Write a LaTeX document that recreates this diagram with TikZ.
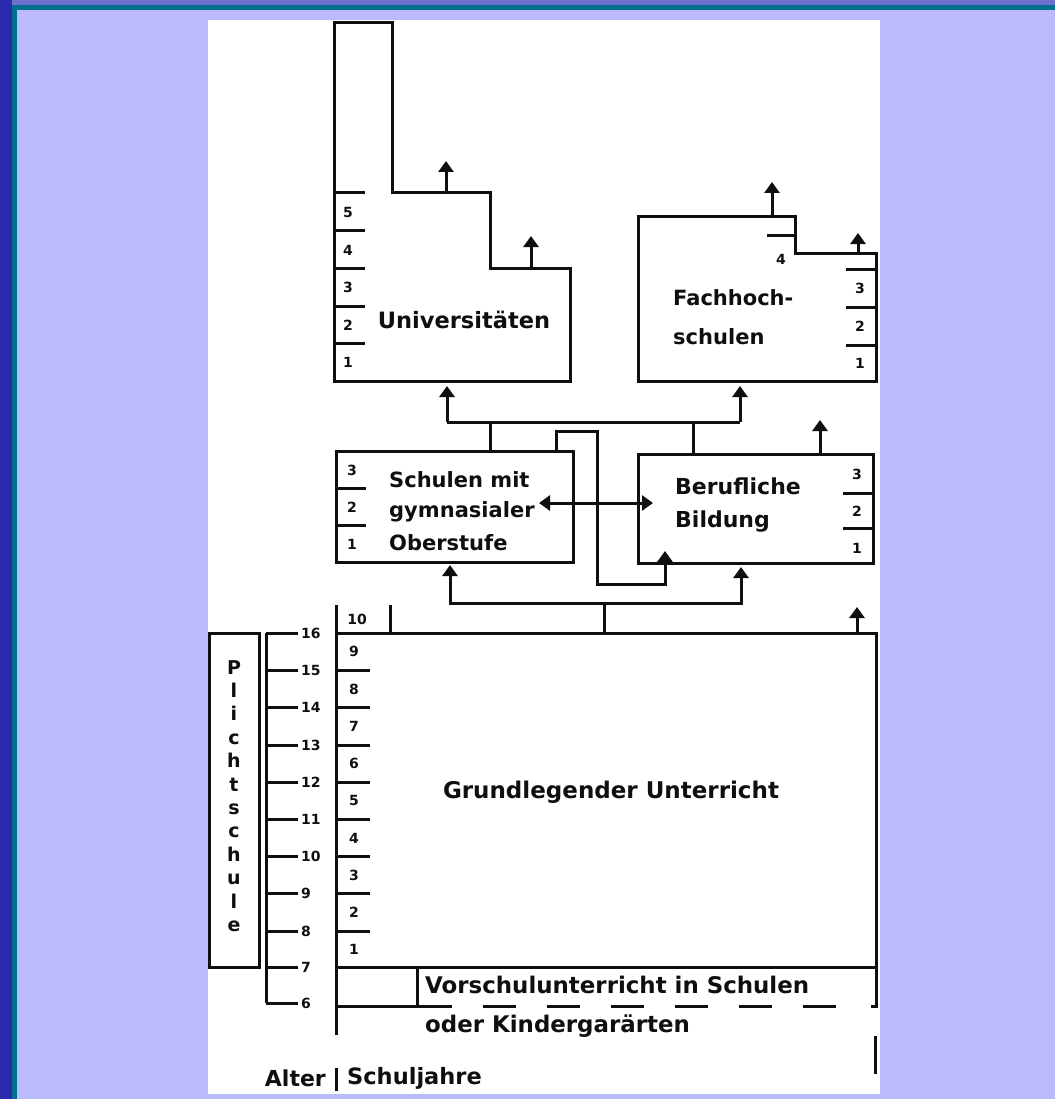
\documentclass[tikz,border=0pt]{standalone}
\usepackage{fontspec}
\setmainfont{DejaVu Sans}
\newfontfamily\numfnt{DejaVu Sans}
\usetikzlibrary{arrows.meta}
\definecolor{bglav}{RGB}{186,186,252}
\definecolor{frteal}{RGB}{0,112,144}
\definecolor{stripblue}{RGB}{42,42,172}
\definecolor{topblue}{RGB}{112,112,204}
\definecolor{ink}{RGB}{15,15,15}
\begin{document}
\begin{tikzpicture}[x=1pt,y=-1pt,
  ln/.style={line width=3pt,draw=ink,line join=miter},
  arr/.style={ln,-{Triangle[width=15pt,length=11pt]}},
  arrtwo/.style={ln,{Triangle[width=15pt,length=11pt]}-{Triangle[width=15pt,length=11pt]}},
  lbl/.style={font=\bfseries\fontsize{21}{25}\selectfont,text=ink,inner sep=0pt},
  num/.style={font=\numfnt\bfseries\fontsize{14}{14}\selectfont,text=ink,inner sep=0pt},
  boxr/.style={ln,rectangle,inner sep=0pt,fill=white}]
\useasboundingbox (0,0) rectangle (1055,1099);
% background
\fill[bglav] (0,0) rectangle (1055,1099);
\fill[topblue] (0,0) rectangle (1055,5);
\fill[stripblue] (0,0) rectangle (12,1099);
\fill[frteal] (12,5) rectangle (1055,10);
\fill[frteal] (12,5) rectangle (17,1099);
\fill[white] (208,20) rectangle (880,1094);

% ---- Universitaeten ----
\draw[ln] (334,23) -- (392,23) -- (392,193) -- (490,193) -- (490,268) -- (570,268) -- (570,381) -- (334,381) -- cycle;
\foreach \y in {193,231,268,306,343} \draw[ln] (334,\y) -- (365,\y);
\foreach \n/\y in {5/212,4/250,3/287,2/325,1/362} \node[num] (u\n) at (348,\y) {\n};
\node[lbl,font=\bfseries\fontsize{22.5}{26}\selectfont] (uni) at (464,320) {Universitäten};
\coordinate (ua1) at (446,193); \coordinate (ua1t) at (446,161);
\coordinate (ua2) at (531,268); \coordinate (ua2t) at (531,236);
\draw[arr] (ua1) -- (ua1t);
\draw[arr] (ua2) -- (ua2t);

% ---- Fachhochschulen ----
\draw[ln] (638,217) -- (795,217) -- (795,253) -- (876,253) -- (876,381) -- (638,381) -- cycle;
\draw[ln] (767,236) -- (795,236);
\node[num] (f4) at (781,259) {4};
\foreach \y in {269,307,345} \draw[ln] (846,\y) -- (876,\y);
\foreach \n/\y in {3/288,2/326,1/363} \node[num] (f\n) at (860,\y) {\n};
\node[lbl,anchor=west] (fach1) at (673,298) {Fachhoch-};
\node[lbl,anchor=west] (fach2) at (673,337) {schulen};
\coordinate (fa1) at (772,217); \coordinate (fa1t) at (772,182);
\coordinate (fa2) at (858,253); \coordinate (fa2t) at (858,233);
\draw[arr] (fa1) -- (fa1t);
\draw[arr] (fa2) -- (fa2t);

% ---- Schulen mit gymnasialer Oberstufe ----
\node[boxr,minimum width=237pt,minimum height=111pt] (schul) at (454.5,506.5) {};
\draw[ln] (336,488) -- (366,488);
\draw[ln] (336,525) -- (366,525);
\foreach \n/\y in {3/470,2/507,1/544} \node[num] (s\n) at (352,\y) {\n};
\node[lbl,anchor=west] (sch1) at (389,480) {Schulen mit};
\node[lbl,anchor=west] (sch2) at (389,512) {gymnasialer};
\node[lbl,anchor=west] (sch3) at (389,543) {Oberstufe};

% ---- Berufliche Bildung ----
\node[boxr,minimum width=235pt,minimum height=109pt] (beruf) at (755.5,508.5) {};
\draw[ln] (843,493) -- (873,493);
\draw[ln] (843,528) -- (873,528);
\foreach \n/\y in {3/474,2/511,1/548} \node[num] (b\n) at (857,\y) {\n};
\node[lbl,anchor=west,font=\bfseries\fontsize{22}{26}\selectfont] (ber1) at (675,486) {Berufliche};
\node[lbl,anchor=west,font=\bfseries\fontsize{22}{26}\selectfont] (ber2) at (675,522) {Bildung};

% ---- connectors middle ----
\coordinate (hA) at (447,422); \coordinate (hB) at (740,422);
\coordinate (hS) at (490,422); \coordinate (hBe) at (693,422);
\draw[ln] (schul.north -| hS) -- (hS);
\draw[ln] (beruf.north -| hBe) -- (hBe);
\draw[ln] (hA) -- (hB);
\draw[arr] (hA) -- (447,386);
\draw[arr] (hB) -- (740,386);
\draw[arr] (beruf.north -| 820,0) -- (820,420);
\coordinate (c1) at (556,431); \coordinate (c2) at (597,431);
\coordinate (c3) at (597,584); \coordinate (c4) at (665,584);
\draw[arr] (schul.north -| c1) -- (c1) -- (c2) -- (c3) -- (c4) -- (665,551);
\draw[arrtwo] (539,503) -- (653,503);
\coordinate (lo) at (604,603);
\draw[ln] (604,633) -- (lo);
\draw[arr] (lo) -| (450,565);
\draw[arr] (lo) -| (741,567);

% ---- Grundlegender Unterricht ----
\draw[ln] (336,605) -- (336,1035);
\draw[ln] (390,605) -- (390,633);
\draw[ln] (336,633) -- (876,633) -- (876,1006) -- (871,1006);
\draw[arr] (857,633) -- (857,607);
\foreach \y in {670,707,745,782,819,856,893,931} \draw[ln] (336,\y) -- (370,\y);
\draw[ln] (336,967) -- (876,967);
\node[num] (g10) at (357,619) {10};
\foreach \n/\y in {9/651,8/689,7/726,6/763,5/800,4/838,3/875,2/912,1/949} \node[num] (g\n) at (354,\y) {\n};
\node[lbl,font=\bfseries\fontsize{23}{27}\selectfont] (grund) at (611,792) {Grundlegender Unterricht};

% ---- Vorschule ----
\draw[ln] (417,967) -- (417,1006);
\draw[ln] (336,1006) -- (419,1006);
\draw[ln,dash pattern=on 33pt off 31pt] (419,1006) -- (836,1006);
\node[lbl,anchor=west,font=\bfseries\fontsize{22.9}{27}\selectfont] (vor1) at (425,985) {Vorschulunterricht in Schulen};
\node[lbl,anchor=west,font=\bfseries\fontsize{22.9}{27}\selectfont] (vor2) at (425,1026) {oder Kindergarärten};
\draw[ln] (875,1036) -- (875,1074);

% ---- Alter ----
\draw[ln] (266,633) -- (266,1003);
\foreach \a/\y in {16/633,15/670,14/707,13/745,12/782,11/819,10/856,9/893,8/931,7/967,6/1003} {
  \draw[ln] (266,\y) -- (298,\y);
  \node[num,anchor=west] (a\a) at (301,\y) {\a};
}
\draw[ln] (209,633) rectangle (259,967);
\node[font=\bfseries\fontsize{19}{23.4}\selectfont,align=center,inner sep=0pt,text=ink] (pfl) at (234,796) {P\\l\\i\\c\\h\\t\\s\\c\\h\\u\\l\\e};

\node[lbl,anchor=east,font=\bfseries\fontsize{22}{26}\selectfont] (alter) at (326,1078) {Alter};
\draw[ln] (336,1068) -- (336,1091);
\node[lbl,anchor=west,font=\bfseries\fontsize{22.5}{26}\selectfont] (sj) at (347,1078) {Schuljahre};
\end{tikzpicture}
\end{document}
